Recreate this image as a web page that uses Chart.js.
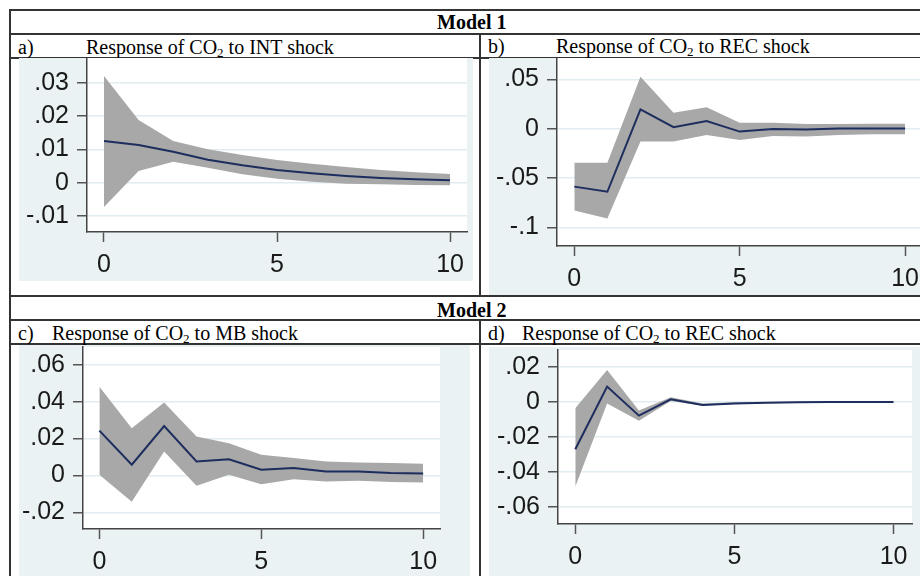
<!DOCTYPE html>
<html>
<head>
<meta charset="UTF-8">
<title>Impulse responses</title>
<script src="https://cdn.jsdelivr.net/npm/chart.js@4/dist/chart.umd.min.js"></script>
<style>
	body { margin: 0; background: #fff; }
	#page { position: relative; width: 920px; height: 576px; overflow: hidden; }
	.hl { position: absolute; left: 9px; right: 0; height: 1.5px; background: #333; }
	.vl { position: absolute; width: 1.5px; background: #333; }
	.txt { position: absolute; font-family: 'Liberation Serif', 'Times New Roman', serif; font-size: 20px; line-height: 24px; color: #000; white-space: nowrap; }
	.txt sub { font-size: 13px; vertical-align: baseline; position: relative; top: 3px; }
	.bold { font-weight: bold; }
	canvas { position: absolute; }
</style>
</head>
<body>
<div id="page">
	<div class="hl" style="top:9px"></div>
	<div class="hl" style="top:33px"></div>
	<div class="hl" style="top:57px"></div>
	<div class="hl" style="top:295px"></div>
	<div class="hl" style="top:319px"></div>
	<div class="hl" style="top:343px"></div>
	<div class="vl" style="left:9px; top:9px; height:567px"></div>
	<div class="vl" style="left:479px; top:33px; height:262px"></div>
	<div class="vl" style="left:479px; top:319px; height:257px"></div>

	<div class="txt bold" style="left:437px; top:9.5px">Model 1</div>
	<div class="txt" style="left:18px; top:34.5px">a)</div>
	<div class="txt" style="left:86px; top:34.5px">Response of CO<sub>2</sub> to INT shock</div>
	<div class="txt" style="left:488px; top:34px">b)</div>
	<div class="txt" style="left:556px; top:34px">Response of CO<sub>2</sub> to REC shock</div>

	<div class="txt bold" style="left:437px; top:298px">Model 2</div>
	<div class="txt" style="left:18px; top:320.5px">c)</div>
	<div class="txt" style="left:52px; top:320.5px">Response of CO<sub>2</sub> to MB shock</div>
	<div class="txt" style="left:488px; top:320.5px">d)</div>
	<div class="txt" style="left:522px; top:320.5px">Response of CO<sub>2</sub> to REC shock</div>

	<canvas id="chartA" width="454" height="223" style="left:19px; top:58px"></canvas>
	<canvas id="chartB" width="431" height="237" style="left:489px; top:58px"></canvas>
	<canvas id="chartC" width="451" height="231" style="left:19px; top:345px"></canvas>
	<canvas id="chartD" width="431" height="229" style="left:489px; top:347px"></canvas>
</div>
<script>

var steps = [0, 1, 2, 3, 4, 5, 6, 7, 8, 9, 10];
var xTicks = [0, 5, 10];
var xLabels = ['0', '5', '10'];

// a) Model 1, INT shock
var irfA = [0.0125, 0.0113, 0.0093, 0.0069, 0.0052, 0.0038, 0.0028, 0.0020, 0.0014, 0.0010, 0.0007];
var upA = [0.0320, 0.0188, 0.0125, 0.0100, 0.0083, 0.0068, 0.0057, 0.0047, 0.0038, 0.0031, 0.0026];
var loA = [-0.0073, 0.0035, 0.0063, 0.0045, 0.0025, 0.0012, 0.0003, -0.0003, -0.0005, -0.0007, -0.0008];
var yTicksA = [0.03, 0.02, 0.01, 0, -0.01];
var yLabelsA = ['.03', '.02', '.01', '0', '-.01'];

// b) Model 1, REC shock
var irfB = [-0.0588, -0.0640, 0.0196, 0.0014, 0.0078, -0.0030, -0.0003, -0.0010, 0.0000, 0.0000, 0.0000];
var upB = [-0.0345, -0.0345, 0.0527, 0.0162, 0.0216, 0.0060, 0.0060, 0.0047, 0.0047, 0.0050, 0.0050];
var loB = [-0.0830, -0.0910, -0.0130, -0.0130, -0.0064, -0.0115, -0.0074, -0.0080, -0.0064, -0.0057, -0.0057];
var yTicksB = [0.05, 0, -0.05, -0.1];
var yLabelsB = ['.05', '0', '-.05', '-.1'];

// c) Model 2, MB shock
var irfC = [0.0243, 0.0058, 0.0268, 0.0076, 0.0088, 0.0031, 0.0040, 0.0022, 0.0022, 0.0013, 0.0011];
var upC = [0.0481, 0.0256, 0.0396, 0.0211, 0.0175, 0.0112, 0.0094, 0.0076, 0.0070, 0.0067, 0.0063];
var loC = [0.0004, -0.0142, 0.0130, -0.0056, 0.0004, -0.0047, -0.0020, -0.0032, -0.0029, -0.0036, -0.0038];
var yTicksC = [0.06, 0.04, 0.02, 0, -0.02];
var yLabelsC = ['.06', '.04', '.02', '0', '-.02'];

// d) Model 2, REC shock
var irfD = [-0.0272, 0.0086, -0.0080, 0.0013, -0.0019, -0.0010, -0.0006, -0.0004, -0.0002, -0.0002, -0.0002];
var upD = [-0.0038, 0.0181, -0.0051, 0.0025, -0.0010, -0.0004, -0.0002, -0.0001, -0.0001, -0.0001, -0.0001];
var loD = [-0.0486, -0.0010, -0.0109, 0.0004, -0.0023, -0.0014, -0.0009, -0.0006, -0.0004, -0.0003, -0.0003];
var yTicksD = [0.02, 0, -0.02, -0.04, -0.06];
var yLabelsD = ['.02', '0', '-.02', '-.04', '-.06'];

function pts(ys) {
	return steps.map(function(s, i) { return {x: s, y: ys[i]}; });
}

// light blue graph region, white plot region
var bgPlugin = {
	id: 'bg',
	beforeDraw: function(chart) {
		var c = chart.ctx, a = chart.chartArea;
		c.save();
		c.fillStyle = '#eaf2f3';
		c.fillRect(0, 0, chart.width, chart.height);
		c.fillStyle = '#ffffff';
		c.fillRect(a.left, a.top, a.right - a.left, a.bottom - a.top);
		c.restore();
	}
};

function makeChart(id, irf, up, lo, yTicks, yLabels, box) {
	var ctx = document.getElementById(id).getContext('2d');
	return new Chart(ctx, {
		type: 'line',
		data: {
			datasets: [{
				data: pts(irf),
				borderColor: '#1d2d5e',
				borderWidth: 2,
				pointRadius: 0,
				tension: 0,
				fill: false
			}, {
				data: pts(up),
				borderWidth: 0,
				borderColor: 'rgba(0,0,0,0)',
				backgroundColor: '#a8a8a8',
				pointRadius: 0,
				tension: 0,
				fill: '+1'
			}, {
				data: pts(lo),
				borderWidth: 0,
				borderColor: 'rgba(0,0,0,0)',
				pointRadius: 0,
				tension: 0,
				fill: false
			}]
		},
		options: {
			responsive: false,
			animation: false,
			layout: {padding: {left: 0, top: box.top, right: box.right, bottom: 0}},
			plugins: {legend: {display: false}, tooltip: {enabled: false}},
			scales: {
				x: {
					type: 'linear',
					min: box.xmin, max: box.xmax,
					afterBuildTicks: function(s) { s.ticks = xTicks.map(function(v) { return {value: v}; }); },
					afterFit: function(s) { s.height = box.xh; s.paddingLeft = 0; s.paddingRight = 0; },
					grid: {drawOnChartArea: false, tickLength: 10, tickColor: '#555', tickWidth: 1.5},
					border: {color: '#444', width: 1.5},
					ticks: {
						autoSkip: false, maxRotation: 0, padding: 8,
						font: {family: 'Liberation Sans', size: 25}, color: '#1a1a1a',
						callback: function(v) { return xLabels[xTicks.indexOf(v)]; }
					}
				},
				y: {
					min: box.ymin, max: box.ymax,
					afterBuildTicks: function(s) { s.ticks = yTicks.map(function(v) { return {value: v}; }); },
					afterFit: function(s) { s.width = box.yw; s.paddingTop = 0; s.paddingBottom = 0; },
					grid: {color: '#e1ecf0', lineWidth: 1.5, tickLength: 10, tickColor: '#555', tickWidth: 1.5},
					border: {color: '#444', width: 1.5},
					ticks: {
						autoSkip: false, padding: 8,
						font: {family: 'Liberation Sans', size: 25}, color: '#1a1a1a',
						callback: function(v) { return yLabels[yTicks.indexOf(v)]; }
					}
				}
			}
		},
		plugins: [bgPlugin]
	});
}

window.onload = function() {
	makeChart('chartA', irfA, upA, loA, yTicksA, yLabelsA,
		{top: 0, right: 6, yw: 68, xh: 49, xmin: -0.491, xmax: 10.49, ymin: -0.0148, ymax: 0.0374});
	makeChart('chartB', irfB, upB, loB, yTicksB, yLabelsB,
		{top: 0, right: 0, yw: 68, xh: 49, xmin: -0.523, xmax: 10.45, ymin: -0.119, ymax: 0.0716});
	makeChart('chartC', irfC, upC, loC, yTicksC, yLabelsC,
		{top: 2, right: 30, yw: 64, xh: 47, xmin: -0.506, xmax: 10.52, ymin: -0.029, ymax: 0.0696});
	makeChart('chartD', irfD, upD, loD, yTicksD, yLabelsD,
		{top: 3, right: 8, yw: 69, xh: 52, xmin: -0.543, xmax: 10.58, ymin: -0.0699, ymax: 0.0295});
};

</script>
</body>
</html>
